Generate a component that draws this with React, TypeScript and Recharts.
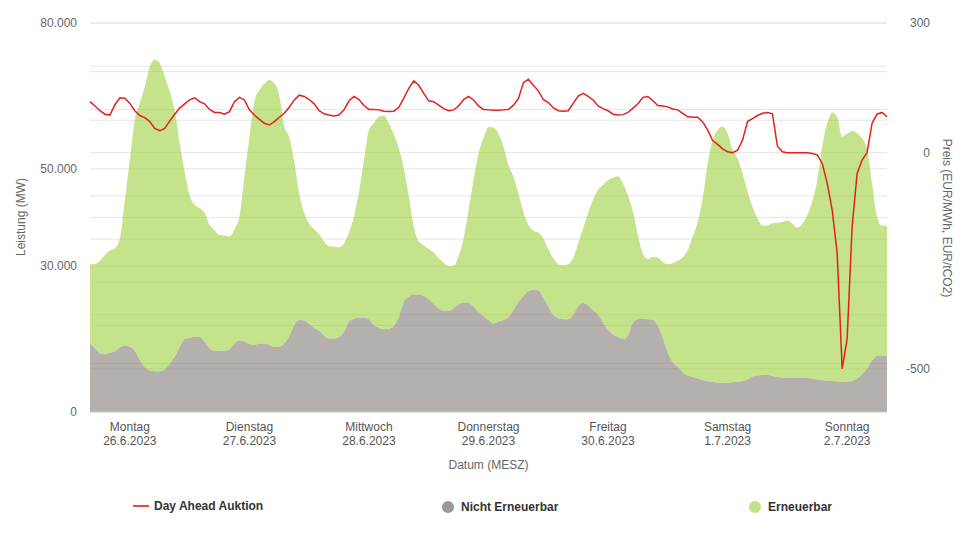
import React from 'react';
import { ComposedChart, Area, Line, XAxis, YAxis, CartesianGrid } from 'recharts';

// hourly index 0..160
const nonRenewable = [
  14100, 13100, 12100, 11900, 12200, 12500, 13300, 13700, 13400, 12600, 10700,
  9200, 8600, 8400, 8400, 8800, 9900, 11400, 13300, 15000, 15200,
  15500, 15400, 14500, 13100, 12600, 12600, 12600, 12900, 14100, 14700,
  14500, 14000, 13800, 14100, 14100, 13800, 13400, 13400, 14100, 15600,
  17900, 18900, 18800, 18100, 17300, 16700, 15700, 15100, 15100, 15400,
  16500, 18600, 19200, 19400, 19400, 19100, 17900, 17300, 17000, 17100,
  17700, 19600, 22700, 23700, 24200, 24100, 23900, 23200, 22200, 21300,
  20800, 20800, 21300, 22100, 22500, 22400, 21700, 20600, 19700, 18900,
  18200, 18600, 18900, 19500, 21000, 22500, 23900, 24800, 25100, 25000,
  23500, 21700, 20000, 19300, 19100, 19100, 20000, 21700, 22400, 21900,
  20900, 20000, 18400, 16900, 15900, 15500, 15000, 15800, 18400, 19100,
  19200, 19100, 18900, 17700, 15200, 12200, 10200, 9300, 8200, 7500,
  7200, 6900, 6600, 6300, 6200, 6000, 6000, 6000, 6100, 6200,
  6400, 6700, 7300, 7500, 7600, 7600, 7400, 7200, 7100, 7000,
  7100, 7100, 7000, 7000, 6900, 6700, 6600, 6400, 6400, 6300,
  6200, 6200, 6400, 6900, 7800, 9000, 10600, 11500, 11600, 11500,
];

const renewable = [
  16300, 17300, 19000, 20400, 21000, 21200, 22400, 29900, 38400, 47500, 52800,
  57700, 62400, 64100, 63300, 60200, 56000, 50700, 42000, 34400, 29400,
  27100, 26500, 26500, 25400, 24800, 23800, 23700, 23200, 23500, 25500,
  33900, 42600, 50000, 52100, 53400, 54500, 54200, 51800, 44600, 40900,
  33600, 26100, 22100, 20600, 20300, 19900, 19300, 19000, 18900, 18500,
  18200, 18300, 21000, 25900, 32400, 38900, 41600, 43400, 44000, 42300,
  39300, 34600, 27400, 20600, 13900, 10900, 10400, 10300, 10600, 10300,
  9900, 9200, 8800, 10000, 13200, 19100, 26000, 32600, 36600, 39700,
  40300, 38700, 35700, 31300, 27400, 22500, 17300, 13700, 12200, 11900,
  12200, 11800, 11600, 11100, 11100, 11300, 11600, 13000, 15400, 19000,
  22800, 25700, 28300, 30800, 32300, 33000, 32000, 28800, 22800, 17300,
  13300, 12400, 13000, 14000, 15600, 18200, 20400, 21800, 23600, 25800,
  28900, 32200, 37300, 44800, 49700, 52000, 52700, 51300, 47800, 46000,
  42700, 38600, 34900, 32300, 30700, 30700, 31400, 31700, 32000, 32400,
  31600, 30800, 31700, 33500, 36400, 41000, 48000, 53000, 55200, 54400,
  50400, 51000, 51400, 50500, 48500, 45200, 36400, 28700, 26700, 26800,
];

const price = [
  118, 108, 97, 89, 87, 111, 127, 126, 114, 97, 86,
  81, 72, 56, 51, 56, 73, 89, 103, 113, 122,
  127, 118, 113, 100, 93, 93, 89, 95, 118, 128,
  122, 99, 87, 77, 68, 64, 72, 82, 91, 105,
  122, 133, 130, 123, 113, 97, 90, 87, 85, 87,
  99, 120, 130, 123, 109, 100, 100, 99, 96, 95,
  96, 105, 126, 149, 166, 156, 137, 120, 118, 110,
  102, 97, 99, 108, 123, 130, 122, 108, 100, 99,
  98, 98, 99, 100, 110, 125, 162, 170, 156, 143,
  123, 116, 104, 97, 96, 97, 114, 131, 137, 130,
  122, 108, 102, 97, 89, 87, 88, 93, 103, 113,
  128, 130, 120, 109, 108, 106, 101, 99, 91, 83,
  82, 82, 71, 52, 28, 19, 9, 2, 0, 6,
  29, 72, 79, 86, 91, 93, 90, 15, 2, 0,
  0, 0, 0, 0, -2, -5, -25, -71, -133, -233,
  -500, -430, -171, -48, -17, 0, 68, 89, 93, 83,
];

const dayTicks = [8, 32, 56, 80, 104, 128, 152];
const dayNames = ['Montag', 'Dienstag', 'Mittwoch', 'Donnerstag', 'Freitag', 'Samstag', 'Sonntag'];
const dayDates = ['26.6.2023', '27.6.2023', '28.6.2023', '29.6.2023', '30.6.2023', '1.7.2023', '2.7.2023'];

const leftGridTicks = [0, 10000, 20000, 30000, 40000, 50000, 60000, 70000, 80000];
const leftLabelTicks = [0, 30000, 50000, 80000];
const rightGridTicks = [-600, -500, -400, -300, -200, -100, 0, 100, 200, 300];
const rightLabelTicks = [-500, 0, 300];

const data = price.map((p, i) => ({
  i,
  nonRenewable: nonRenewable[i],
  renewable: renewable[i],
  price: p,
}));

const FONT = '"Liberation Sans", Arial, Helvetica, sans-serif';

const fmtDe = (v: number) => {
  const s = Math.abs(v).toString().replace(/\B(?=(\d{3})+(?!\d))/g, '.');
  return (v < 0 ? '-' : '') + s;
};

const LeftTick = (props: any) => {
  const { x, y, payload } = props;
  if (!leftLabelTicks.includes(payload.value)) return <g />;
  return (
    <text x={x} y={y} dy={4} textAnchor="end" fill="#666" fontSize={12} fontFamily={FONT}>
      {fmtDe(payload.value)}
    </text>
  );
};

const RightTick = (props: any) => {
  const { x, y, payload } = props;
  if (!rightLabelTicks.includes(payload.value)) return <g />;
  return (
    <text x={x} y={y} dy={4} textAnchor="end" fill="#666" fontSize={12} fontFamily={FONT}>
      {fmtDe(payload.value)}
    </text>
  );
};

const DayTick = (props: any) => {
  const { x, y, payload } = props;
  const k = dayTicks.indexOf(payload.value);
  if (k < 0) return <g />;
  return (
    <g>
      <text x={x} y={y + 19} textAnchor="middle" fill="#555" fontSize={12} fontFamily={FONT}>
        {dayNames[k]}
      </text>
      <text x={x} y={y + 33} textAnchor="middle" fill="#555" fontSize={12} fontFamily={FONT}>
        {dayDates[k]}
      </text>
    </g>
  );
};

export default function App() {
  return (
    <div
      style={{
        position: 'absolute',
        left: 0,
        top: 0,
        width: 966,
        height: 538,
        background: '#fff',
        fontFamily: FONT,
      }}
    >
      <ComposedChart width={966} height={450} data={data} margin={{ top: 23, right: 0, bottom: 0, left: 0 }}>
        <CartesianGrid yAxisId="left" vertical={false} stroke="#e6e6e6" />
        <CartesianGrid yAxisId="right" vertical={false} stroke="#e6e6e6" />
        <XAxis
          dataKey="i"
          type="number"
          domain={[0, 160]}
          ticks={dayTicks}
          interval={0}
          tick={DayTick}
          tickLine={false}
          tickSize={0}
          tickMargin={0}
          height={38}
          axisLine={{ stroke: '#ccd6eb' }}
        />
        <YAxis
          yAxisId="left"
          orientation="left"
          width={90}
          domain={[0, 80000]}
          ticks={leftGridTicks}
          interval={0}
          tick={LeftTick}
          tickLine={false}
          tickSize={0}
          tickMargin={13}
          axisLine={false}
          allowDataOverflow
        />
        <YAxis
          yAxisId="right"
          orientation="right"
          width={79}
          domain={[-600, 300]}
          ticks={rightGridTicks}
          interval={0}
          tick={RightTick}
          tickLine={false}
          tickSize={0}
          tickMargin={43}
          axisLine={false}
          allowDataOverflow
        />
        <Area
          yAxisId="left"
          type="monotone"
          dataKey="nonRenewable"
          stackId="mw"
          stroke="none"
          fill="#827b78"
          fillOpacity={0.6}
          isAnimationActive={false}
        />
        <Area
          yAxisId="left"
          type="monotone"
          dataKey="renewable"
          stackId="mw"
          stroke="none"
          fill="#9dd03c"
          fillOpacity={0.6}
          isAnimationActive={false}
        />
        <Line
          yAxisId="right"
          type="linear"
          dataKey="price"
          stroke="#e3211c"
          strokeWidth={1.5}
          dot={false}
          isAnimationActive={false}
        />
      </ComposedChart>

      {/* Axis titles */}
      <div
        style={{
          position: 'absolute',
          left: 21,
          top: 217,
          transform: 'translate(-50%, -50%) rotate(-90deg)',
          whiteSpace: 'nowrap',
          fontSize: 12,
          color: '#666',
          lineHeight: '14px',
        }}
      >
        Leistung (MW)
      </div>
      <div
        style={{
          position: 'absolute',
          left: 947,
          top: 218,
          transform: 'translate(-50%, -50%) rotate(90deg)',
          whiteSpace: 'nowrap',
          fontSize: 12,
          color: '#666',
          lineHeight: '14px',
        }}
      >
        Preis (EUR/MWh, EUR/tCO2)
      </div>
      <div
        style={{
          position: 'absolute',
          left: 90,
          width: 797,
          top: 458,
          textAlign: 'center',
          fontSize: 12,
          color: '#666',
          lineHeight: '14px',
        }}
      >
        Datum (MESZ)
      </div>

      {/* Legend */}
      <div style={{ position: 'absolute', left: 133, top: 505, width: 16, height: 2, background: '#e04b45' }} />
      <div
        style={{
          position: 'absolute',
          left: 154,
          top: 499,
          fontSize: 12,
          fontWeight: 'bold',
          color: '#333',
          lineHeight: '14px',
          whiteSpace: 'nowrap',
        }}
      >
        Day Ahead Auktion
      </div>
      <div
        style={{
          position: 'absolute',
          left: 442,
          top: 501,
          width: 12,
          height: 12,
          borderRadius: 6,
          background: '#999',
        }}
      />
      <div
        style={{
          position: 'absolute',
          left: 461,
          top: 500,
          fontSize: 12,
          fontWeight: 'bold',
          color: '#333',
          lineHeight: '14px',
          whiteSpace: 'nowrap',
        }}
      >
        Nicht Erneuerbar
      </div>
      <div
        style={{
          position: 'absolute',
          left: 749,
          top: 501,
          width: 12,
          height: 12,
          borderRadius: 6,
          background: '#c2e28a',
        }}
      />
      <div
        style={{
          position: 'absolute',
          left: 768,
          top: 500,
          fontSize: 12,
          fontWeight: 'bold',
          color: '#333',
          lineHeight: '14px',
          whiteSpace: 'nowrap',
        }}
      >
        Erneuerbar
      </div>
    </div>
  );
}
